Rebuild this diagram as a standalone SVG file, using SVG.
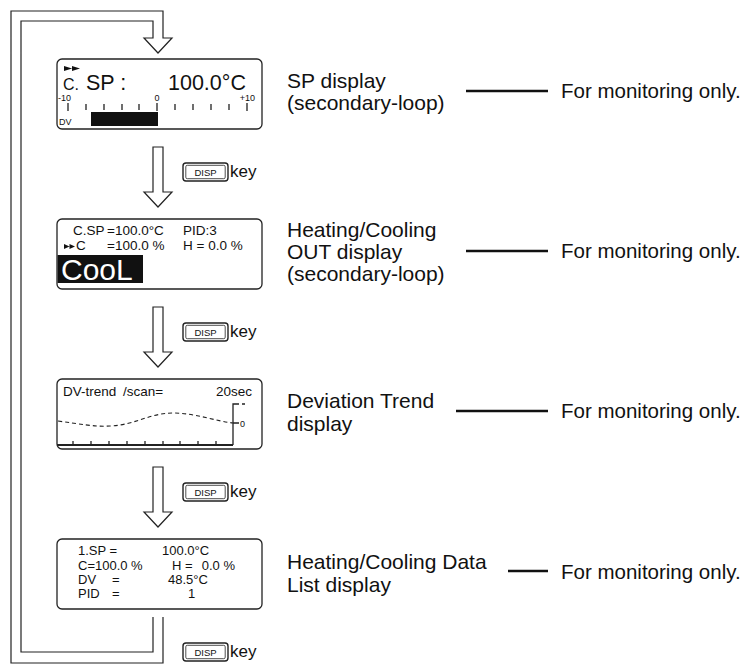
<svg xmlns="http://www.w3.org/2000/svg" width="745" height="671" viewBox="0 0 745 671">
<style>
text{font-family:"Liberation Sans",Arial,Helvetica,sans-serif;fill:#111}
.lcd{fill:#fff;stroke:#222;stroke-width:1.3}
.ln{fill:none;stroke:#222;stroke-width:1.2}
.lead{stroke:#111;stroke-width:2.4}
.lbl{font-size:21px}
.mon{font-size:20.5px}
.key{font-size:17px}
.disp{font-size:9.5px}
.t13{font-size:13.5px}
.t9{font-size:9px}
.tk{fill:none;stroke:#222;stroke-width:1.3}
</style>
<defs>
<g id="dispkey">
<rect x="0" y="0" width="45" height="18" rx="3" fill="#fff" stroke="#222" stroke-width="1.4"/>
<rect x="2.8" y="2.3" width="39.4" height="13.4" rx="1.5" fill="none" stroke="#222" stroke-width="0.8"/>
<text x="22.5" y="12.6" text-anchor="middle" class="disp">DISP</text>
</g>
</defs>

<g id="connectors">
<path class="ln" d="M163,617 V663 H11 V11 H163 V38 H172 L158,53 L144,38 H153 V21 H21 V652 H153 V617"/>
<path class="ln" d="M153,147 H163 V192 H172 L158,207 L144,192 H153 Z"/>
<path class="ln" d="M153,307 H163 V352 H172 L158,367 L144,352 H153 Z"/>
<path class="ln" d="M153,467 H163 V512 H172 L158,527 L144,512 H153 Z"/>
<line class="lead" x1="466" y1="91" x2="548" y2="91"/>
<line class="lead" x1="466" y1="251" x2="548" y2="251"/>
<line class="lead" x1="456" y1="411" x2="548" y2="411"/>
<line class="lead" x1="508" y1="571" x2="548" y2="571"/>
</g>

<g id="keys">
<use href="#dispkey" x="183" y="163"/><text x="230" y="177" class="key">key</text>
<use href="#dispkey" x="183" y="323"/><text x="230" y="337" class="key">key</text>
<use href="#dispkey" x="183" y="483"/><text x="230" y="497" class="key">key</text>
<use href="#dispkey" x="183" y="643"/><text x="230" y="657" class="key">key</text>
</g>

<g id="sp-display">
<rect class="lcd" x="57" y="59" width="205" height="70" rx="5"/>
<path d="M64,66 L64,71 L72,68.5 Z M72,66 L72,71 L80,68.5 Z" fill="#111"/>
<text x="63" y="90" style="font-size:16px">C.</text>
<text x="86" y="90" style="font-size:21.5px">SP :</text>
<text x="168" y="90" style="font-size:21.5px">100.0°C</text>
<text x="58" y="101" class="t9">-10</text>
<text x="157" y="101" class="t9" text-anchor="middle">0</text>
<text x="255" y="101" class="t9" text-anchor="end">+10</text>
<path class="tk" d="M68,103 V111 M86,104 V110 M104,104 V110 M122,104 V110 M139,104 V110 M157,103 V111 M175,104 V110 M193,104 V110 M211,104 V110 M229,104 V110 M247,103 V111"/>
<rect x="91" y="112" width="67" height="14" fill="#111"/>
<text x="59" y="125" class="t9">DV</text>
</g>

<g id="out-display">
<rect class="lcd" x="57" y="219" width="205" height="70" rx="5"/>
<text x="73" y="235" class="t13">C.SP</text>
<text x="107" y="235" class="t13">=100.0°C</text>
<text x="183" y="235" class="t13">PID:3</text>
<path d="M64,244 L64,249 L69.5,246.5 Z M69.5,244 L69.5,249 L75,246.5 Z" fill="#111"/>
<text x="76" y="250" class="t13">C</text>
<text x="107" y="250" class="t13">=100.0 %</text>
<text x="183" y="250" class="t13">H = 0.0 %</text>
<rect x="57.6" y="255" width="85.4" height="28" fill="#111"/>
<text x="61" y="280" style="font-size:30px;fill:#fff">CooL</text>
</g>

<g id="trend-display">
<rect class="lcd" x="57" y="379" width="205" height="70" rx="5"/>
<text x="63" y="396" class="t13">DV-trend</text>
<text x="123" y="396" class="t13">/scan=</text>
<text x="252" y="396" class="t13" text-anchor="end">20sec</text>
<path d="M58,421 C80,424 95,427 110,426 C135,425 150,413 173,413 C195,413 215,421 233,423" fill="none" stroke="#222" stroke-width="1.1" stroke-dasharray="4,3"/>
<path class="tk" d="M233,445 V404 H239 M242,404 H245 M233,423 H239"/>
<text x="240" y="427" class="t9">0</text>
<path d="M57,445 H233" stroke="#222" stroke-width="1.8"/>
<path class="tk" d="M73,445 V441 M91,445 V441 M109,445 V441 M127,445 V441 M145,445 V441 M163,445 V441 M180,445 V441 M198,445 V441 M216,445 V441"/>
</g>

<g id="datalist-display">
<rect class="lcd" x="57" y="539" width="205" height="70" rx="5"/>
<g style="font-size:13px">
<text x="78" y="555">1.SP  =</text>
<text x="162" y="555">100.0°C</text>
<text x="78" y="570">C=100.0 %</text>
<text x="172" y="570">H =</text>
<text x="235" y="570" text-anchor="end">0.0 %</text>
<text x="78" y="584">DV</text>
<text x="112" y="584">=</text>
<text x="168" y="584">48.5°C</text>
<text x="78" y="598">PID</text>
<text x="112" y="598">=</text>
<text x="188" y="598">1</text>
</g>
</g>

<g id="labels">
<text x="287" y="88" class="lbl">SP display</text>
<text x="287" y="110" class="lbl">(secondary-loop)</text>
<text x="561" y="98" class="mon">For monitoring only.</text>
<text x="287" y="237" class="lbl">Heating/Cooling</text>
<text x="287" y="259" class="lbl">OUT display</text>
<text x="287" y="281" class="lbl">(secondary-loop)</text>
<text x="561" y="258" class="mon">For monitoring only.</text>
<text x="287" y="408" class="lbl">Deviation Trend</text>
<text x="287" y="431" class="lbl">display</text>
<text x="561" y="418" class="mon">For monitoring only.</text>
<text x="287" y="569" class="lbl">Heating/Cooling Data</text>
<text x="287" y="592" class="lbl">List display</text>
<text x="561" y="579" class="mon">For monitoring only.</text>
</g>
</svg>
